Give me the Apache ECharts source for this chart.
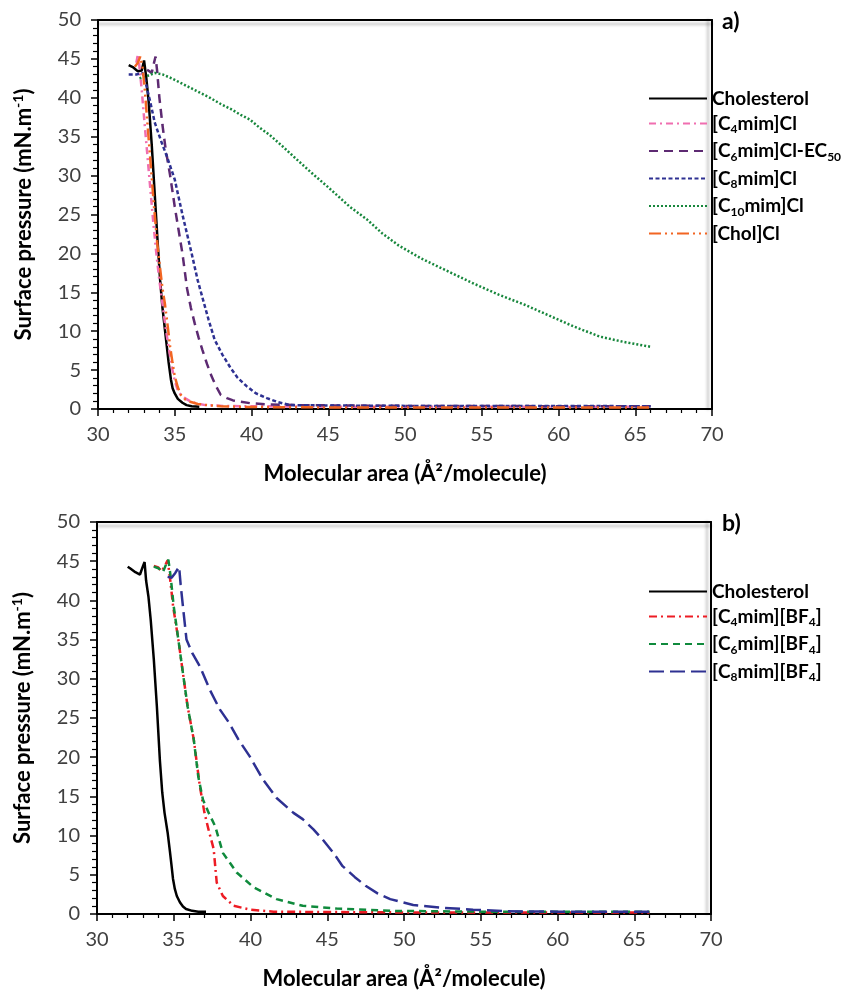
<!DOCTYPE html>
<html>
<head>
<meta charset="utf-8">
<script src="https://cdn.jsdelivr.net/npm/echarts@6/dist/echarts.min.js"></script>
<style>
html,body{margin:0;padding:0;background:#fff;}
#main{width:847px;height:991px;}
</style>
</head>
<body>
<div id="main"></div>
<script>
// ---------- DATA ----------
const xTicks = [30, 35, 40, 45, 50, 55, 60, 65, 70];
const yTicks = [0, 5, 10, 15, 20, 25, 30, 35, 40, 45, 50];

const namesA = ['Cholesterol', '[C4mim]Cl', '[C6mim]Cl-EC50', '[C8mim]Cl', '[C10mim]Cl', '[Chol]Cl'];
const namesB = ['Cholesterol ', '[C4mim][BF4]', '[C6mim][BF4]', '[C8mim][BF4]'];

const cholesterolA = [[32.0,44.2],[32.3,43.9],[32.6,43.4],[32.85,43.5],[33.0,44.8],[33.05,45.0],[33.15,42.5],[33.3,39.5],[33.5,34],[33.7,27.5],[33.9,21],[34.05,16.5],[34.2,13],[34.4,9.5],[34.6,6],[34.75,3.8],[34.86,2.66],[35.0,2.0],[35.2,1.3],[35.5,0.8],[35.77,0.5],[36.1,0.35],[36.6,0.3]];
const c4mimCl = [[32.5,44.5],[32.6,45.6],[32.7,44],[32.85,41],[33.0,37.5],[33.2,33],[33.4,28.5],[33.6,24],[33.8,20],[34.0,16.5],[34.2,13.5],[34.4,10.5],[34.6,8],[34.8,5.5],[35.0,3.6],[35.2,2.4],[35.4,1.8],[35.66,1.4],[36.0,1.0],[36.4,0.73],[37.0,0.5],[38.1,0.4],[40,0.35],[45,0.3],[50,0.3],[55,0.3],[60,0.3],[66,0.3]];
const c6mimClEC50 = [[33.2,43.6],[33.5,43.2],[33.65,44.5],[33.75,45.3],[33.85,43.5],[34.0,40],[34.2,36.5],[34.4,33.5],[34.7,30],[35.0,26],[35.25,23],[35.5,20],[35.8,15.5],[36.05,13],[36.3,11],[36.55,9.2],[36.8,7.6],[37.1,5.8],[37.4,4.2],[37.7,2.9],[38.0,1.8],[38.4,1.4],[38.8,1.1],[39.9,0.75],[41,0.6],[43,0.5],[46,0.45],[50,0.4],[55,0.4],[60,0.35],[66,0.35]];
const c8mimCl = [[32.0,43.0],[32.5,43.0],[32.9,43.2],[33.1,42],[33.4,39.5],[33.7,36.8],[34.1,34.5],[34.5,32.4],[35.0,29.5],[35.5,25],[35.8,22.5],[36.1,20],[36.5,16.5],[36.85,14],[37.2,11.5],[37.6,8.9],[38.1,7],[38.6,5.4],[39.1,4],[39.7,2.9],[40.3,2.0],[41.0,1.4],[41.7,0.9],[42.5,0.5],[45,0.45],[50,0.4],[55,0.4],[60,0.4],[66,0.35]];
const c10mimCl = [[32.7,42.5],[33.2,42.8],[33.7,43.2],[34.2,43.0],[34.8,42.5],[35.3,42],[36.0,41.3],[36.6,40.7],[37.3,40],[38.0,39.2],[38.7,38.5],[39.3,37.8],[39.9,37.2],[40.5,36.2],[41.2,35.2],[42.0,33.8],[43.1,31.8],[44.0,30.2],[45.0,28.5],[46.4,26.0],[47.5,24.4],[48.5,22.6],[49.6,21.0],[51.0,19.4],[52.9,17.6],[54.5,16.1],[56.1,14.7],[57.8,13.4],[59.4,12.0],[61.0,10.6],[62.7,9.3],[64.3,8.6],[66.0,8.0]];
const cholCl = [[32.4,44],[32.6,44.5],[32.75,45.3],[32.9,44],[33.05,41],[33.25,36],[33.45,31],[33.65,26],[33.85,21.5],[34.05,18],[34.2,15.5],[34.36,13.5],[34.55,10.5],[34.7,8],[34.85,6],[35.0,4.2],[35.2,2.8],[35.4,1.8],[35.7,1.2],[36.0,0.94],[36.5,0.65],[37.1,0.5],[38,0.35],[40,0.25],[45,0.2],[50,0.2],[55,0.2],[60,0.2],[66,0.2]];

const cholesterolB = [[32.0,44.3],[32.15,44.1],[32.5,43.6],[32.8,43.3],[33.0,44.4],[33.1,44.9],[33.2,42.5],[33.35,40.5],[33.5,37.5],[33.7,32.5],[33.9,26.5],[34.1,19.5],[34.25,15.5],[34.4,12.9],[34.6,10.4],[34.75,8],[34.86,6.1],[34.95,4.5],[35.07,3.2],[35.2,2.3],[35.4,1.5],[35.6,0.95],[35.8,0.64],[36.2,0.4],[36.6,0.3],[37.1,0.3]];
const c4mimBF4 = [[33.7,44.4],[34.0,44.2],[34.2,43.7],[34.45,44.5],[34.6,45.1],[34.75,43],[34.96,39.2],[35.3,35],[35.6,30.7],[35.9,26.5],[36.3,22.3],[36.7,16.3],[37.0,12.9],[37.3,10.5],[37.6,8.3],[37.8,4.0],[38.2,2.3],[38.9,1.05],[40.0,0.55],[41.5,0.3],[45,0.25],[50,0.2],[55,0.2],[60,0.2],[66,0.2]];
const c6mimBF4 = [[33.7,44.3],[34.0,44.1],[34.3,43.6],[34.5,44.6],[34.65,45.2],[34.8,43],[35.0,39.2],[35.3,35],[35.6,30.7],[35.9,26.5],[36.3,22.3],[36.6,17.5],[36.9,14.6],[37.3,12.8],[37.7,11.2],[38.2,7.8],[39.1,5.3],[40.2,3.4],[41.7,1.9],[43.4,1.05],[45.6,0.7],[49.1,0.4],[55,0.3],[60,0.3],[66,0.3]];
const c8mimBF4 = [[34.6,43.0],[34.86,42.9],[35.1,43.5],[35.35,44.3],[35.45,42],[35.6,39.2],[35.83,35.0],[36.2,33.3],[36.7,31.6],[37.35,28.6],[38.0,26.1],[38.6,24.4],[39.2,22.3],[39.95,20.1],[40.8,17.2],[41.7,14.8],[42.8,12.9],[43.4,12.1],[44.1,10.8],[44.7,9.5],[45.4,7.8],[46.0,6.1],[46.8,4.7],[47.5,3.6],[48.3,2.6],[49.1,1.9],[50.6,1.15],[52.5,0.8],[54.5,0.55],[56.7,0.35],[60,0.3],[66,0.3]];

// ---------- STYLE ----------
const FONT = 'Lato';
const labelColor = '#404040';
const legendRich = {
  b: {fontFamily: FONT, fontWeight: 'bold', fontSize: 19, color: '#000', lineHeight: 24},
  s: {fontFamily: FONT, fontWeight: 'bold', fontSize: 12, color: '#000', lineHeight: 14, verticalAlign: 'bottom', padding: [7, 0, 0, 0]}
};
function legendFmt(name) {
  const n = name.trim();
  let out = '';
  const re = /(C|F)(\d+)|EC(\d+)/g;
  let last = 0, m;
  while ((m = re.exec(n)) !== null) {
    if (m.index > last) out += '{b|' + n.slice(last, m.index) + '}';
    if (m[3]) { out += '{b|EC}{s|' + m[3] + '}'; }
    else { out += '{b|' + m[1] + '}{s|' + m[2] + '}'; }
    last = re.lastIndex;
  }
  if (last < n.length) out += '{b|' + n.slice(last) + '}';
  return out;
}

function baseX(gi) {
  return {
    type: 'value', gridIndex: gi, min: 30, max: 70, interval: 5,
    axisLine: {show: true, onZero: false, lineStyle: {color: '#000', width: 2}},
    axisTick: {show: true, inside: false, length: 7, lineStyle: {color: '#000', width: 1.5}},
    minorTick: {show: true, splitNumber: 5, length: 4, lineStyle: {color: '#000', width: 1.2}},
    splitLine: {show: false},
    axisLabel: {fontFamily: FONT, fontSize: 20, color: labelColor, margin: 16, customValues: xTicks},
    name: 'Molecular area (Å²/molecule)', nameLocation: 'middle', nameGap: 54,
    nameTextStyle: {fontFamily: FONT, fontWeight: 'bold', fontSize: 22, color: '#000'}
  };
}
function topX(gi) {
  return {
    type: 'value', gridIndex: gi, min: 30, max: 70, position: 'top',
    axisLine: {show: true, onZero: false, lineStyle: {color: '#000', width: 2, shadowColor: 'rgba(0,0,0,0.25)', shadowBlur: 3, shadowOffsetY: 4}},
    axisTick: {show: false}, axisLabel: {show: false}, splitLine: {show: false}
  };
}
function baseY(gi) {
  return {
    type: 'value', gridIndex: gi, min: 0, max: 50, interval: 5,
    axisLine: {show: true, onZero: false, lineStyle: {color: '#000', width: 2}},
    axisTick: {show: true, inside: false, length: 7, lineStyle: {color: '#000', width: 1.5}},
    minorTick: {show: true, splitNumber: 5, length: 5, lineStyle: {color: '#000', width: 1.2}},
    splitLine: {show: false},
    axisLabel: {fontFamily: FONT, fontSize: 20, color: labelColor, margin: 17, customValues: yTicks},
    name: '{t|Surface pressure (mN.m}{u|-1}{t|)}', nameLocation: 'middle', nameGap: 61, nameRotate: 90,
    nameTextStyle: {
      rich: {
        t: {fontFamily: FONT, fontWeight: 'bold', fontSize: 22, color: '#000', lineHeight: 26},
        u: {fontFamily: FONT, fontWeight: 'bold', fontSize: 14, color: '#000', lineHeight: 12, verticalAlign: 'top'}
      }
    }
  };
}
function rightY(gi) {
  return {
    type: 'value', gridIndex: gi, min: 0, max: 50, position: 'right',
    axisLine: {show: true, onZero: false, lineStyle: {color: '#000', width: 2, shadowColor: 'rgba(0,0,0,0.25)', shadowBlur: 3, shadowOffsetX: -4}},
    axisTick: {show: false}, axisLabel: {show: false}, splitLine: {show: false}
  };
}
function ser(name, data, gi, color, width, type) {
  return {
    name: name, type: 'line', xAxisIndex: gi * 2, yAxisIndex: gi * 2, data: data,
    symbol: 'none', showSymbol: false, smooth: false, z: 3,
    lineStyle: {color: color, width: width, type: type},
    itemStyle: {color: color}
  };
}
const legendCommon = {
  orient: 'vertical', left: 643, itemWidth: 58, itemHeight: 14, itemGap: 6,
  formatter: legendFmt, textStyle: {rich: legendRich},
  itemStyle: {opacity: 0, color: 'transparent', borderWidth: 0}
};

const chart = echarts.init(document.getElementById('main'));
chart.setOption({
  animation: false,
  backgroundColor: '#fff',
  title: [
    {text: 'a)', left: 717, top: 5, textStyle: {fontFamily: FONT, fontWeight: 'bold', fontSize: 23, color: '#000'}},
    {text: 'b)', left: 717, top: 507, textStyle: {fontFamily: FONT, fontWeight: 'bold', fontSize: 23, color: '#000'}}
  ],
  grid: [
    {left: 98, top: 20, width: 614, height: 389},
    {left: 97, top: 522, width: 614, height: 393}
  ],
  xAxis: [baseX(0), topX(0), baseX(1), topX(1)],
  yAxis: [baseY(0), rightY(0), baseY(1), rightY(1)],
  legend: [
    Object.assign({data: namesA, top: 84}, legendCommon),
    Object.assign({data: namesB, top: 577}, legendCommon)
  ],
  series: [
    ser(namesA[0], cholesterolA, 0, '#000000', 2.5, 'solid'),
    ser(namesA[1], c4mimCl, 0, '#f06eb0', 2.5, [7, 4, 2, 4]),
    ser(namesA[2], c6mimClEC50, 0, '#5d2a72', 2.5, [9, 6]),
    ser(namesA[3], c8mimCl, 0, '#2e3192', 2.5, [4, 2.5]),
    ser(namesA[4], c10mimCl, 0, '#17873c', 2.5, [2, 2]),
    ser(namesA[5], cholCl, 0, '#f26522', 2.5, [12, 4, 2, 4, 2, 4]),
    ser(namesB[0], cholesterolB, 1, '#000000', 2.5, 'solid'),
    ser(namesB[1], c4mimBF4, 1, '#ed1c24', 2.5, [8, 4, 2, 4]),
    ser(namesB[2], c6mimBF4, 1, '#0f8a3c', 2.5, [7, 5]),
    ser(namesB[3], c8mimBF4, 1, '#2e3192', 2.5, [15, 6])
  ]
});
</script>
</body>
</html>
